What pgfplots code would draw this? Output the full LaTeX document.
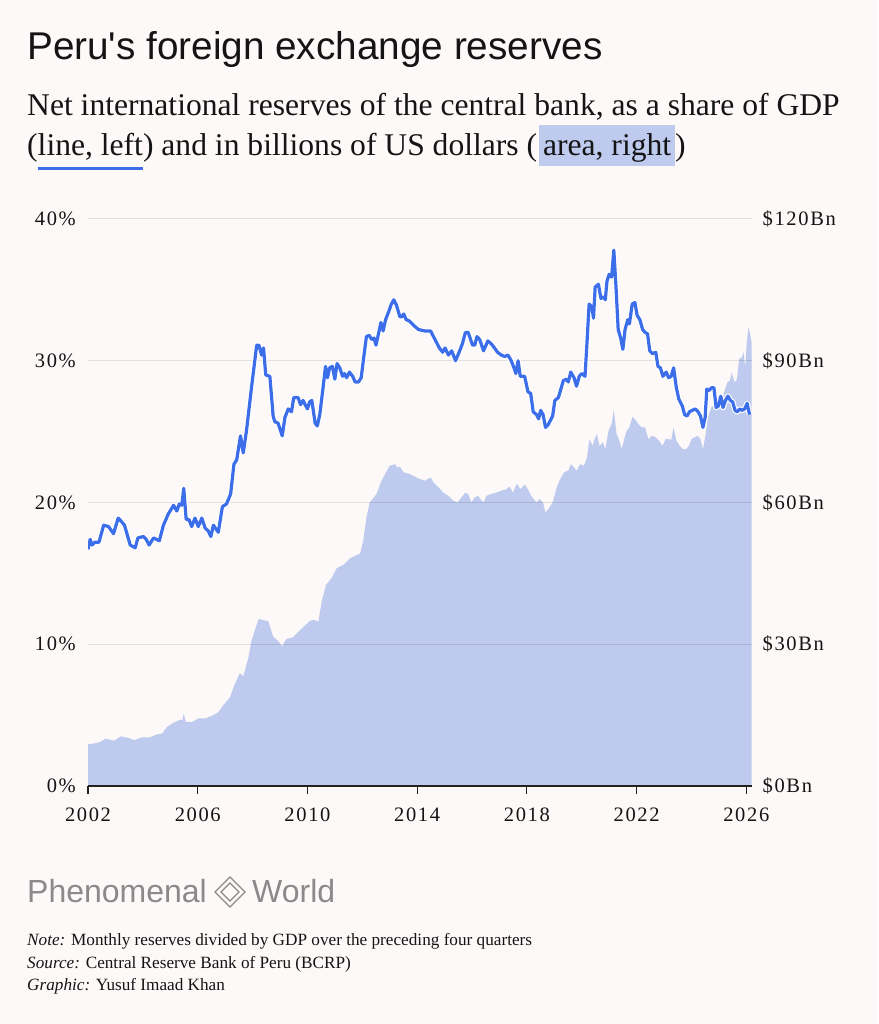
\documentclass[border=0pt]{standalone}
\usepackage{pgfplots}
\pgfplotsset{compat=1.18}
\usepackage{pgfplotstable}
\usepackage{fontspec}
\setmainfont{Liberation Serif}
\newfontfamily\sansfont[Ligatures=TeXOff]{Liberation Sans}
\newfontfamily\tickfont[LetterSpace=8]{Liberation Serif}
\definecolor{bg}{HTML}{FDF9F8}
\definecolor{lineblue}{HTML}{3D6EEA}
\definecolor{areablue}{HTML}{BECAEE}
\definecolor{textc}{HTML}{141414}
\definecolor{axisc}{HTML}{222222}
\definecolor{logogray}{HTML}{8A8A8A}

\newcommand\ul[1]{\setbox0\hbox{#1}\rlap{\color{lineblue}\rule[-14pt]{\wd0}{3pt}}\box0}
\newcommand\hl[1]{{\setlength\fboxsep{0pt}\colorbox{areablue}{\rule[-10pt]{0pt}{41pt}\kern4pt #1\kern4pt}}}

\pgfplotstableread{
x y
2002.00 16.7
2002.08 17.4
2002.15 17.0
2002.25 17.2
2002.40 17.2
2002.50 17.9
2002.57 18.4
2002.75 18.3
2002.93 17.8
2003.10 18.9
2003.20 18.7
2003.33 18.4
2003.45 17.6
2003.54 17.0
2003.72 16.8
2003.82 17.5
2004.02 17.6
2004.12 17.4
2004.23 17.0
2004.39 17.5
2004.60 17.3
2004.75 18.4
2004.93 19.2
2005.12 19.8
2005.24 19.4
2005.33 19.9
2005.42 19.8
2005.49 21.0
2005.58 18.8
2005.68 18.8
2005.78 18.3
2005.90 18.9
2006.02 18.3
2006.15 18.9
2006.27 18.2
2006.38 18.0
2006.48 17.6
2006.57 18.4
2006.75 17.9
2006.90 19.7
2007.05 19.9
2007.20 20.6
2007.32 22.7
2007.42 23.0
2007.56 24.7
2007.66 23.5
2007.78 25.1
2007.96 28.1
2008.15 31.1
2008.23 31.1
2008.33 30.4
2008.40 30.9
2008.48 29.0
2008.63 28.9
2008.75 26.1
2008.81 25.7
2008.93 25.6
2009.08 24.7
2009.18 26.0
2009.30 26.6
2009.42 26.4
2009.50 27.4
2009.66 27.4
2009.75 26.9
2009.84 27.2
2010.00 26.6
2010.08 27.1
2010.16 27.2
2010.28 25.6
2010.36 25.4
2010.45 26.2
2010.57 28.1
2010.66 29.6
2010.73 28.8
2010.81 29.5
2010.91 29.6
2011.00 28.7
2011.08 29.8
2011.18 29.5
2011.28 28.9
2011.35 29.1
2011.43 28.8
2011.53 29.2
2011.65 28.9
2011.74 28.5
2011.86 28.5
2011.96 28.8
2012.05 30.2
2012.15 31.7
2012.25 31.8
2012.34 31.5
2012.43 31.6
2012.50 31.1
2012.59 31.9
2012.68 32.7
2012.76 32.1
2012.85 32.9
2012.97 33.5
2013.06 34.0
2013.15 34.3
2013.25 33.9
2013.37 33.1
2013.44 33.1
2013.51 33.3
2013.60 32.9
2013.72 32.8
2013.87 32.5
2014.05 32.2
2014.28 32.1
2014.49 32.1
2014.65 31.5
2014.81 30.9
2014.93 30.6
2015.02 30.9
2015.14 30.4
2015.26 30.7
2015.40 30.0
2015.53 30.6
2015.65 31.2
2015.76 32.0
2015.86 32.0
2016.02 31.1
2016.10 31.1
2016.18 31.7
2016.28 31.5
2016.42 30.7
2016.58 31.4
2016.70 31.2
2016.82 30.9
2016.93 30.6
2017.07 30.4
2017.19 30.3
2017.31 30.4
2017.43 30.0
2017.53 29.5
2017.60 29.1
2017.68 30.0
2017.76 28.9
2017.92 28.9
2018.04 27.8
2018.14 27.7
2018.23 26.4
2018.35 26.2
2018.43 25.9
2018.50 26.5
2018.59 26.2
2018.68 25.3
2018.78 25.5
2018.94 26.1
2019.02 27.2
2019.15 27.4
2019.24 28.0
2019.33 28.6
2019.45 28.7
2019.51 28.5
2019.60 29.2
2019.72 28.8
2019.81 28.2
2019.91 28.9
2020.00 29.1
2020.12 28.9
2020.19 31.2
2020.27 34.0
2020.37 33.8
2020.43 33.0
2020.49 35.2
2020.61 35.4
2020.70 34.4
2020.80 34.5
2020.86 34.3
2020.92 35.6
2021.00 36.1
2021.09 35.9
2021.17 37.8
2021.25 35.2
2021.33 32.2
2021.42 31.6
2021.50 30.8
2021.58 32.2
2021.68 32.9
2021.74 32.6
2021.84 34.0
2021.94 34.1
2022.02 33.2
2022.12 32.9
2022.22 32.2
2022.31 32.0
2022.40 31.9
2022.48 30.7
2022.58 30.5
2022.70 30.6
2022.78 29.6
2022.87 29.5
2022.96 28.9
2023.08 29.2
2023.17 28.8
2023.26 28.9
2023.35 29.5
2023.45 28.1
2023.54 27.3
2023.67 26.8
2023.75 26.2
2023.84 26.1
2023.93 26.4
2024.03 26.5
2024.14 26.6
2024.24 26.4
2024.33 26.1
2024.42 25.3
2024.50 26.0
2024.56 28.0
2024.64 27.9
2024.74 28.1
2024.82 28.1
2024.90 26.7
2024.98 26.8
2025.07 27.5
2025.15 26.7
2025.24 27.2
2025.33 27.5
2025.42 27.2
2025.50 27.1
2025.59 26.5
2025.67 26.4
2025.76 26.6
2025.84 26.5
2025.94 26.6
2026.03 27.0
2026.12 26.2
}\linedata

\pgfplotstableread{
x y
2002.00 8.8
2002.40 9.2
2002.65 10.0
2002.95 9.6
2003.20 10.5
2003.45 10.2
2003.70 9.7
2003.95 10.3
2004.25 10.3
2004.50 10.9
2004.70 11.1
2004.88 12.5
2005.12 13.4
2005.36 14.0
2005.45 14.0
2005.49 15.3
2005.56 13.6
2005.78 13.5
2006.02 14.3
2006.27 14.3
2006.57 15.0
2006.75 15.6
2006.93 17.1
2007.17 18.7
2007.35 21.5
2007.54 23.9
2007.66 23.2
2007.84 27.0
2007.96 30.7
2008.08 33.0
2008.23 35.4
2008.39 35.1
2008.57 34.9
2008.75 31.6
2008.93 30.7
2009.08 29.6
2009.23 31.1
2009.48 31.5
2009.66 32.6
2009.90 33.9
2010.08 34.9
2010.22 35.2
2010.40 34.8
2010.52 39.1
2010.68 42.6
2010.88 44.0
2011.07 46.1
2011.31 46.8
2011.56 48.2
2011.74 48.7
2011.92 49.2
2012.04 52.1
2012.15 56.8
2012.27 60.0
2012.52 61.8
2012.70 64.6
2013.00 67.8
2013.20 68.1
2013.28 67.4
2013.37 67.6
2013.50 66.4
2013.74 66.0
2014.04 65.1
2014.28 64.6
2014.49 65.3
2014.60 64.2
2014.81 63.0
2014.95 62.1
2015.14 61.4
2015.32 60.4
2015.47 60.0
2015.62 61.1
2015.76 62.1
2015.86 61.8
2015.98 60.0
2016.10 61.1
2016.22 61.4
2016.34 60.5
2016.43 60.0
2016.52 61.4
2016.70 61.8
2016.89 62.1
2017.07 62.5
2017.25 62.8
2017.37 63.4
2017.49 62.1
2017.64 64.0
2017.76 62.8
2017.92 63.8
2018.04 62.8
2018.16 61.4
2018.35 60.0
2018.47 60.7
2018.59 60.0
2018.68 57.9
2018.78 58.6
2018.94 60.0
2019.09 63.2
2019.21 64.9
2019.36 66.4
2019.52 66.8
2019.60 68.1
2019.72 67.4
2019.81 66.7
2019.94 68.1
2020.08 67.8
2020.19 69.5
2020.28 73.4
2020.40 72.0
2020.47 73.4
2020.55 74.5
2020.65 72.0
2020.77 72.7
2020.86 71.3
2020.98 75.2
2021.09 76.6
2021.17 79.6
2021.27 74.5
2021.37 73.1
2021.46 71.3
2021.55 73.4
2021.64 75.2
2021.74 75.9
2021.85 78.1
2021.94 77.6
2022.06 76.6
2022.18 75.9
2022.31 75.9
2022.43 73.4
2022.55 74.1
2022.70 73.8
2022.82 73.1
2022.94 72.0
2023.06 73.4
2023.18 73.4
2023.26 73.2
2023.35 75.9
2023.45 73.1
2023.57 72.0
2023.69 71.3
2023.81 71.3
2023.91 72.0
2024.00 73.4
2024.11 73.8
2024.23 74.1
2024.33 73.4
2024.42 71.3
2024.52 74.5
2024.60 78.0
2024.72 80.1
2024.84 80.8
2024.98 81.5
2025.10 81.2
2025.19 83.3
2025.31 85.4
2025.40 85.8
2025.47 87.5
2025.57 85.4
2025.66 86.1
2025.74 90.4
2025.84 90.7
2025.90 91.8
2025.96 88.6
2026.02 94.2
2026.08 97.1
2026.14 95.6
2026.19 94.0
}\areadata

\pgfplotsset{
  common/.style={
    at={(88pt,238pt)}, anchor=south west,
    scale only axis, width=663.5pt, height=567pt,
    xmin=2002, xmax=2026.19,
    tick label style={font=\tickfont\fontsize{20.5}{24}\selectfont, text=textc},
    /pgf/number format/assume math mode=true,
  }
}

\begin{document}
\begin{tikzpicture}
\fill[bg] (0pt,0pt) rectangle (878pt,1024pt);
\useasboundingbox (0pt,0pt) rectangle (878pt,1024pt);

\node[anchor=base west, inner sep=0pt, text=textc, font=\sansfont\fontsize{38.7}{44}\selectfont] at (27pt,964pt) {Peru's foreign exchange reserves};
\node[anchor=base west, inner sep=0pt, text=textc, font=\fontsize{31.6}{36}\selectfont] at (27pt,908pt) {Net international reserves of the central bank, as a share of GDP};
\node[anchor=base west, inner sep=0pt, text=textc, font=\fontsize{31.6}{36}\selectfont] at (27pt,868pt) {(\ul{line, left}) and in billions of US dollars (\kern2pt\hl{area, right})};

\begin{axis}[common,
  ymin=0, ymax=120,
  axis on top,
  axis x line*=bottom, axis y line*=right,
  xtick={2002,2006,2010,2014,2018,2022,2026},
  xticklabels={2002,2006,2010,2014,2018,2022,2026},
  ytick={0,30,60,90,120},
  yticklabels={\$0Bn,\$30Bn,\$60Bn,\$90Bn,\$120Bn},
  ymajorgrids, grid style={black, opacity=0.1, line width=1pt},
  x axis line style={draw=axisc, line width=1.3pt},
  y axis line style={draw=none},
  xtick style={draw=axisc, line width=1.1pt},
  ytick style={draw=none},
  major tick length=8pt, tick align=outside,
  yticklabel style={anchor=west, inner sep=0pt, xshift=3pt},
  xticklabel style={anchor=north, inner sep=0pt, yshift=-13.5pt},
]
\addplot[fill=areablue, draw=none] table {\areadata} \closedcycle;
\end{axis}

\begin{axis}[common,
  ymin=0, ymax=40,
  axis x line=none, axis y line*=left,
  y axis line style={draw=none},
  ytick style={draw=none},
  ytick={0,10,20,30,40},
  yticklabels={0\%,10\%,20\%,30\%,40\%},
  yticklabel style={anchor=east, inner sep=0pt, xshift=-12pt},
]
\addplot[white, line width=5.5pt, line join=round] table {\linedata};
\addplot[lineblue, line width=3.2pt, line join=round] table {\linedata};
\end{axis}

\node[anchor=base west, inner sep=0pt, text=logogray, font=\sansfont\fontsize{32}{38}\selectfont] at (27pt,121pt) {Phenomenal};
\draw[logogray, line width=1.4pt] (215pt,132pt)--(230pt,147pt)--(245pt,132pt)--(230pt,117pt)--cycle;
\draw[logogray, line width=1.4pt] (221pt,132pt)--(230pt,141pt)--(239pt,132pt)--(230pt,123pt)--cycle;
\node[anchor=base west, inner sep=0pt, text=logogray, font=\sansfont\fontsize{32}{38}\selectfont] at (252pt,121pt) {World};

\node[anchor=base west, inner sep=0pt, text=textc, font=\fontsize{17.2}{20}\selectfont] at (27pt,78pt) {\textit{Note:} Monthly reserves divided by GDP over the preceding four quarters};
\node[anchor=base west, inner sep=0pt, text=textc, font=\fontsize{17.2}{20}\selectfont] at (27pt,55pt) {\textit{Source:} Central Reserve Bank of Peru (BCRP)};
\node[anchor=base west, inner sep=0pt, text=textc, font=\fontsize{17.2}{20}\selectfont] at (27pt,33pt) {\textit{Graphic:} Yusuf Imaad Khan};
\end{tikzpicture}
\end{document}
